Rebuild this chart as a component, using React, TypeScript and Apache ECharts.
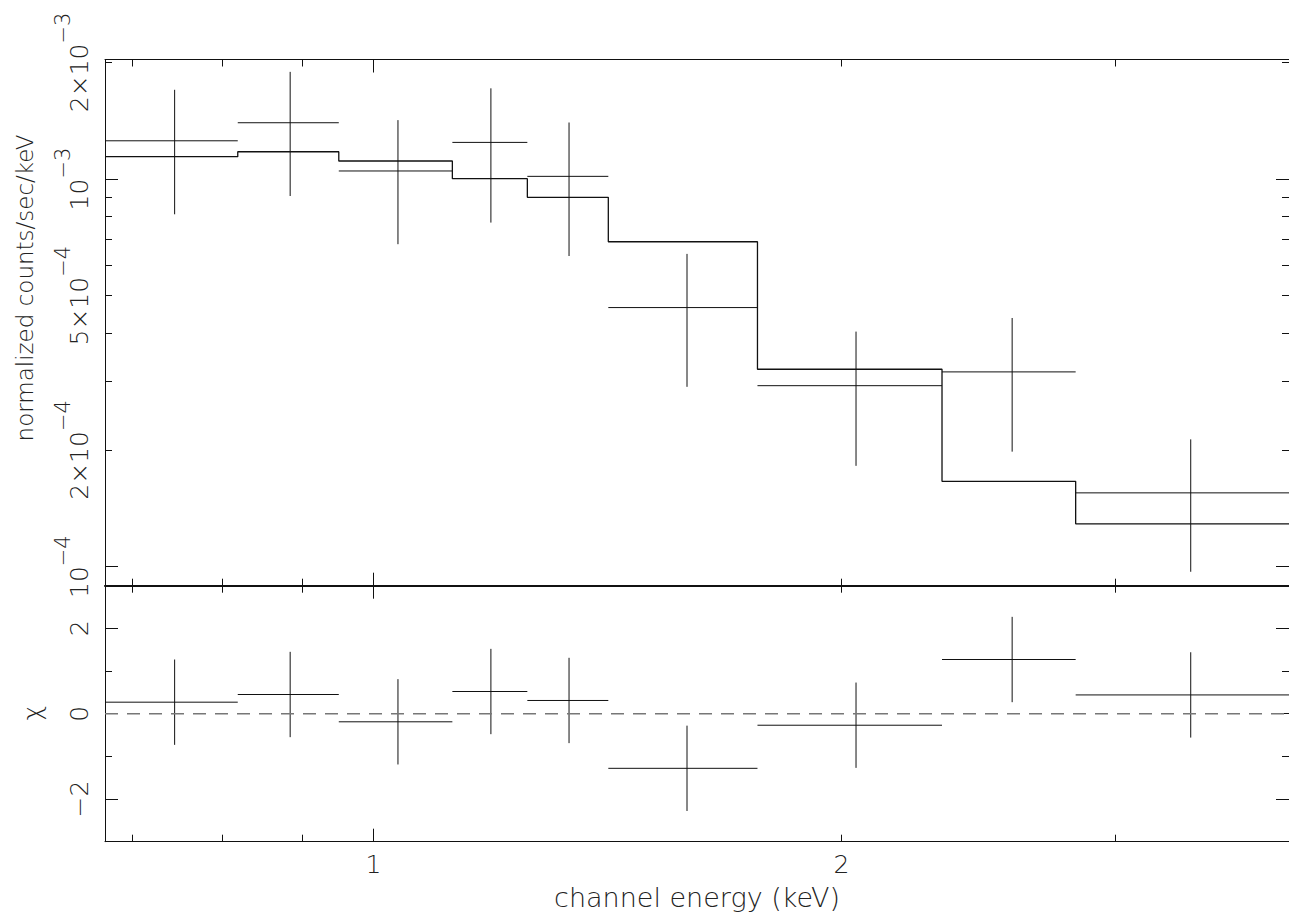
import React, { useEffect, useRef } from "react";
import * as echarts from "echarts";

// ---- data ----
const binLo = [0.672, 0.818, 0.95, 1.124, 1.256, 1.416, 1.766, 2.321, 2.829];
const binHi = [0.818, 0.95, 1.124, 1.256, 1.416, 1.766, 2.321, 2.829, 3.88];
const rate = [1.255e-3, 1.397e-3, 1.049e-3, 1.243e-3, 1.016e-3, 4.66e-4, 2.93e-4, 3.18e-4, 1.55e-4];
const rateErr = [4.44e-4, 4.93e-4, 3.7e-4, 4.71e-4, 3.83e-4, 1.75e-4, 1.11e-4, 1.2e-4, 5.8e-5];
const model = [1.142e-3, 1.176e-3, 1.113e-3, 1.002e-3, 8.97e-4, 6.89e-4, 3.23e-4, 1.66e-4, 1.29e-4];
const chi = [0.27, 0.45, -0.19, 0.52, 0.31, -1.28, -0.27, 1.27, 0.44];
const chiErr = [1, 1, 1, 1, 1, 1, 1, 1, 1];

// ---- axes ----
const xMin = 0.672;
const xMax = 3.88;
const yTopMin = 8.93e-5;
const yTopMax = 2.034e-3;
const chiMin = -3;
const chiMax = 3;

const xMajorTicks = [1];
const xMinorTicks = [0.7, 0.8, 0.9, 2, 3];
const xTickLabels = [1, 2];
const yMajorTicks = [1e-4, 1e-3];
const yMinorTicks = [2e-4, 3e-4, 4e-4, 5e-4, 6e-4, 7e-4, 8e-4, 9e-4, 2e-3];
const yTickLabels = [1e-4, 2e-4, 5e-4, 1e-3, 2e-3];
const yTickMantissa = ["", "2×", "5×", "", "2×"];
const yTickExponent = ["−4", "−4", "−4", "−3", "−3"];
const chiMajorTicks = [-2, 0, 2];
const chiMinorTicks = [-1, 1];
const chiTickLabels = [-2, 0, 2];

const xTitle = "channel energy (keV)";
const yTitle = "normalized counts/sec/keV";
const chiTitle = "χ";

const LINE = "#111";
const TXT = "#222";
const FONT = "'DejaVu Sans', sans-serif";
const FW = 200;
const LABEL_SIZE = 25;

const richLabel = {
  b: { fontSize: LABEL_SIZE, lineHeight: 40, verticalAlign: "bottom", color: TXT, fontFamily: FONT, fontWeight: FW },
  s: { fontSize: 21, lineHeight: 16, verticalAlign: "top", color: TXT, fontFamily: FONT, fontWeight: FW },
};

function xAxisDef(gridIndex: number, position: string, ticks: number[], len: number, showLine: boolean, lw: number, labels?: number[]) {
  return {
    type: "log",
    logBase: 10,
    gridIndex,
    position,
    min: xMin,
    max: xMax,
    axisLine: { show: showLine, onZero: false, lineStyle: { color: LINE, width: lw } },
    axisTick: { show: true, inside: true, length: len, customValues: ticks, lineStyle: { color: LINE, width: 1 } },
    axisLabel: labels
      ? {
          show: true,
          customValues: labels,
          margin: 10,
          color: TXT,
          fontSize: LABEL_SIZE,
          fontFamily: FONT,
          fontWeight: FW,
          formatter: (v: number) => String(Math.round(v)),
        }
      : { show: false },
    splitLine: { show: false },
    minorTick: { show: false },
  };
}

function yTopDef(position: string, ticks: number[], len: number, showLine: boolean, withLabels: boolean) {
  return {
    type: "log",
    logBase: 10,
    gridIndex: 0,
    position,
    min: yTopMin,
    max: yTopMax,
    axisLine: { show: showLine, lineStyle: { color: LINE, width: 1 } },
    axisTick: { show: true, inside: true, length: len, customValues: ticks, lineStyle: { color: LINE, width: 1 } },
    axisLabel: withLabels
      ? {
          show: true,
          customValues: yTickLabels,
          rotate: 90,
          margin: 13,
          rich: richLabel,
          formatter: (v: number) => {
            const i = yTickLabels.findIndex((t) => Math.abs(t - v) / t < 1e-3);
            if (i < 0) return "";
            return `{b|${yTickMantissa[i]}10}{s|${yTickExponent[i]}}`;
          },
        }
      : { show: false },
    splitLine: { show: false },
    minorTick: { show: false },
  };
}

function yChiDef(position: string, ticks: number[], len: number, showLine: boolean, withLabels: boolean) {
  return {
    type: "value",
    gridIndex: 1,
    position,
    min: chiMin,
    max: chiMax,
    axisLine: { show: showLine, onZero: false, lineStyle: { color: LINE, width: 1 } },
    axisTick: { show: true, inside: true, length: len, customValues: ticks, lineStyle: { color: LINE, width: 1 } },
    axisLabel: withLabels
      ? {
          show: true,
          customValues: chiTickLabels,
          rotate: 90,
          margin: 13,
          rich: richLabel,
          formatter: (v: number) => `{b|${v < 0 ? "−" : ""}${Math.abs(Math.round(v))}}`,
        }
      : { show: false },
    splitLine: { show: false },
    minorTick: { show: false },
  };
}

function crossItem(params: any, api: any) {
  const lo = api.value(0);
  const hi = api.value(1);
  const y = api.value(2);
  const err = api.value(3);
  const c = api.value(4);
  const pLo = api.coord([lo, y]);
  const pHi = api.coord([hi, y]);
  const pTop = api.coord([c, y + err]);
  const pBot = api.coord([c, y - err]);
  const style = { stroke: LINE, lineWidth: 1, fill: null };
  return {
    type: "group",
    children: [
      { type: "line", shape: { x1: pLo[0], y1: pLo[1], x2: pHi[0], y2: pHi[1] }, style },
      { type: "line", shape: { x1: pTop[0], y1: pTop[1], x2: pBot[0], y2: pBot[1] }, style },
    ],
  };
}

export default function App() {
  const ref = useRef<HTMLDivElement>(null);

  useEffect(() => {
    if (!ref.current) return;
    const chart = echarts.init(ref.current, null, { renderer: "svg" });

    const modelStep: number[][] = [];
    binLo.forEach((lo, i) => {
      modelStep.push([lo, model[i]]);
      modelStep.push([binHi[i], model[i]]);
    });
    const dataCross = binLo.map((lo, i) => [lo, binHi[i], rate[i], rateErr[i], (lo + binHi[i]) / 2]);
    const chiCross = binLo.map((lo, i) => [lo, binHi[i], chi[i], chiErr[i], (lo + binHi[i]) / 2]);

    const titleStyle = (text: string, size: number) => ({
      text,
      fill: TXT,
      fontSize: size,
      fontFamily: FONT,
      fontWeight: FW,
      align: "center",
      verticalAlign: "middle",
      textAlign: "center",
      textVerticalAlign: "middle",
    });

    const option: any = {
      animation: false,
      backgroundColor: "#fff",
      textStyle: { fontFamily: FONT },
      grid: [
        { left: 105, right: -1, top: 59.5, height: 526.2 },
        { left: 105, right: -1, top: 585.7, height: 256 },
      ],
      xAxis: [
        xAxisDef(0, "bottom", xMajorTicks, 13, true, 2),
        xAxisDef(0, "bottom", xMinorTicks, 7, false, 1),
        xAxisDef(0, "top", xMajorTicks, 13, true, 1),
        xAxisDef(0, "top", xMinorTicks, 7, false, 1),
        xAxisDef(1, "bottom", xMajorTicks, 13, true, 1, xTickLabels),
        xAxisDef(1, "bottom", xMinorTicks, 7, false, 1),
        xAxisDef(1, "top", xMajorTicks, 13, true, 1),
        xAxisDef(1, "top", xMinorTicks, 7, false, 1),
      ],
      yAxis: [
        yTopDef("left", yMajorTicks, 13, true, true),
        yTopDef("left", yMinorTicks, 7, false, false),
        yTopDef("right", yMajorTicks, 13, true, false),
        yTopDef("right", yMinorTicks, 7, false, false),
        yChiDef("left", chiMajorTicks, 13, true, true),
        yChiDef("left", chiMinorTicks, 7, false, false),
        yChiDef("right", chiMajorTicks, 13, true, false),
        yChiDef("right", chiMinorTicks, 7, false, false),
      ],
      series: [
        {
          type: "line",
          xAxisIndex: 0,
          yAxisIndex: 0,
          data: modelStep,
          symbol: "none",
          silent: true,
          lineStyle: { color: LINE, width: 1.3 },
        },
        {
          type: "custom",
          xAxisIndex: 0,
          yAxisIndex: 0,
          data: dataCross,
          encode: { x: [0, 1], y: 2 },
          renderItem: crossItem,
          silent: true,
        },
        {
          type: "line",
          xAxisIndex: 4,
          yAxisIndex: 4,
          data: [
            [xMin, 0],
            [xMax, 0],
          ],
          symbol: "none",
          silent: true,
          lineStyle: { color: "#777", width: 1.5, type: [13, 9] },
        },
        {
          type: "custom",
          xAxisIndex: 4,
          yAxisIndex: 4,
          data: chiCross,
          encode: { x: [0, 1], y: 2 },
          renderItem: crossItem,
          silent: true,
        },
      ],
      graphic: [
        { type: "text", x: 697, y: 897, style: titleStyle(xTitle, 27) },
        { type: "text", x: 25, y: 288, rotation: Math.PI / 2, style: titleStyle(yTitle, 23) },
        { type: "text", x: 32, y: 713, rotation: Math.PI / 2, style: titleStyle(chiTitle, 25) },
      ],
    };

    chart.setOption(option);
    return () => chart.dispose();
  }, []);

  return (
    <div
      ref={ref}
      style={{ position: "absolute", left: 0, top: 0, width: 1289, height: 921, background: "#fff" }}
    />
  );
}
